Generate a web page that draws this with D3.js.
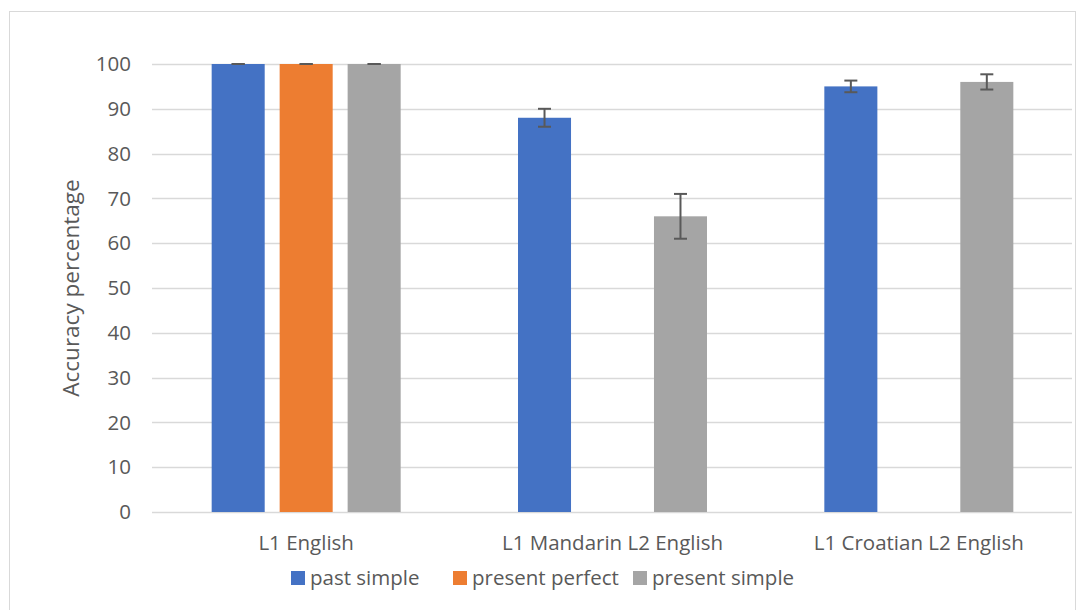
<!DOCTYPE html>
<html>
<head>
<meta charset="utf-8">
<script src="https://cdn.jsdelivr.net/npm/d3@7"></script>
<style>
  body { margin: 0; background: #fff; }
  text { font-family: "Open Sans", Lato, sans-serif; fill: #595959; }
</style>
</head>
<body>
<svg id="chart" width="1078" height="610"></svg>
<script>
// chart data
var groups = ['L1 English', 'L1 Mandarin L2 English', 'L1 Croatian L2 English'];
var seriesNames = ['past simple', 'present perfect', 'present simple'];
var seriesColors = ['#4472c4', '#ed7d31', '#a5a5a5'];
// null = no bar in that group
var pastSimple = [100, 88, 95];
var presentPerfect = [100, null, null];
var presentSimple = [100, 66, 96];
var pastSimpleErr = [0, 2, 1.3];
var presentPerfectErr = [0, null, null];
var presentSimpleErr = [0, 5, 1.7];
var yTicks = [0, 10, 20, 30, 40, 50, 60, 70, 80, 90, 100];

var values = [pastSimple, presentPerfect, presentSimple];
var errors = [pastSimpleErr, presentPerfectErr, presentSimpleErr];

var svg = d3.select('#chart');
var margin = { left: 153, right: 6, top: 64, bottom: 98 };
var width = 1078 - margin.left - margin.right;
var height = 610 - margin.top - margin.bottom;

// chart border
svg.append('rect')
    .attr('x', 9.5).attr('y', 11.5)
    .attr('width', 1066).attr('height', 620)
    .attr('fill', 'none')
    .attr('stroke', '#d9d9d9');

var g = svg.append('g').attr('transform', 'translate(' + margin.left + ',' + margin.top + ')');

var x0 = d3.scaleBand().domain(groups).range([0, width]);
var x1 = d3.scaleBand().domain(seriesNames).range([0, 189]).paddingInner(0.22);
var y = d3.scaleLinear().domain([0, 100]).range([height, 0]);

// gridlines
g.selectAll('.grid')
    .data(yTicks)
    .enter().append('line')
    .attr('class', 'grid')
    .attr('x1', -1).attr('x2', width)
    .attr('y1', function (d) { return Math.round(y(d)) + 0.5; })
    .attr('y2', function (d) { return Math.round(y(d)) + 0.5; })
    .attr('stroke', '#d9d9d9')
    .attr('stroke-width', 1.5);

// y tick labels
g.selectAll('.ytick')
    .data(yTicks)
    .enter().append('text')
    .attr('class', 'ytick')
    .attr('x', -22)
    .attr('y', function (d) { return y(d); })
    .attr('dy', '0.35em')
    .attr('text-anchor', 'end')
    .style('font-size', '20.5px')
    .text(function (d) { return d; });

// bars
var rows = [];
groups.forEach(function (grp, gi) {
    seriesNames.forEach(function (s, si) {
        if (values[si][gi] != null) {
            rows.push({ group: grp, series: s, si: si, value: values[si][gi], err: errors[si][gi] });
        }
    });
});

var groupOffset = (x0.bandwidth() - 189) / 2;

function barX(d) { return x0(d.group) + groupOffset + x1(d.series); }

g.selectAll('.bar')
    .data(rows)
    .enter().append('rect')
    .attr('class', 'bar')
    .attr('x', barX)
    .attr('y', function (d) { return y(d.value); })
    .attr('width', x1.bandwidth())
    .attr('height', function (d) { return height - y(d.value); })
    .attr('fill', function (d) { return seriesColors[d.si]; });

// error bars
var eb = g.selectAll('.err')
    .data(rows)
    .enter().append('g')
    .attr('class', 'err')
    .attr('stroke', '#595959')
    .attr('stroke-width', 2);
eb.append('line')
    .attr('x1', function (d) { return barX(d) + x1.bandwidth() / 2; })
    .attr('x2', function (d) { return barX(d) + x1.bandwidth() / 2; })
    .attr('y1', function (d) { return y(d.value + d.err); })
    .attr('y2', function (d) { return y(d.value - d.err); });
[1, -1].forEach(function (sign) {
    eb.append('line')
        .attr('x1', function (d) { return barX(d) + x1.bandwidth() / 2 - 6.5; })
        .attr('x2', function (d) { return barX(d) + x1.bandwidth() / 2 + 6.5; })
        .attr('y1', function (d) { return y(d.value + sign * d.err); })
        .attr('y2', function (d) { return y(d.value + sign * d.err); });
});

// x category labels
g.selectAll('.xlabel')
    .data(groups)
    .enter().append('text')
    .attr('class', 'xlabel')
    .attr('x', function (d) { return x0(d) + x0.bandwidth() / 2; })
    .attr('y', height + 38)
    .attr('text-anchor', 'middle')
    .style('font-size', '20.5px')
    .text(function (d) { return d; });

// y axis title
svg.append('text')
    .attr('transform', 'translate(79,' + (margin.top + height / 2) + ') rotate(-90)')
    .attr('text-anchor', 'middle')
    .style('font-size', '22.5px')
    .text('Accuracy percentage');

// legend
var legendX = [291, 453, 633];
var lg = svg.selectAll('.legend')
    .data(seriesNames)
    .enter().append('g')
    .attr('class', 'legend')
    .attr('transform', function (d, i) { return 'translate(' + legendX[i] + ',578)'; });
lg.append('rect')
    .attr('x', 0).attr('y', -7)
    .attr('width', 14).attr('height', 14)
    .attr('fill', function (d, i) { return seriesColors[i]; });
lg.append('text')
    .attr('x', 19)
    .attr('dy', '0.35em')
    .style('font-size', '20.5px')
    .text(function (d) { return d; });
</script>
</body>
</html>
